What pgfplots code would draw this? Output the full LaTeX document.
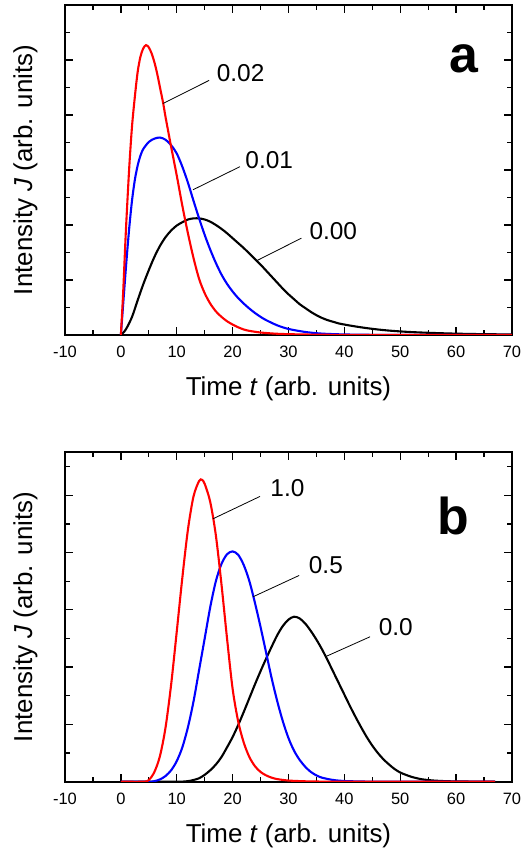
\documentclass[border=0pt]{standalone}
\usepackage{fontspec}
\setmainfont{Liberation Sans}
\usepackage{pgfplots}
\pgfplotsset{compat=1.18}

\pgfplotsset{
  panel/.style={
    scale only axis, width=447bp,
    xmin=-10, xmax=70,
    xtick={-10,0,...,70},
    xticklabels={-10,0,10,20,30,40,50,60,70},
    minor x tick num=1,
    ytick={0,1,...,6},
    yticklabels={},
    minor y tick num=1,
    tick pos=both, xticklabel pos=lower,
    tick align=inside,
    major tick length=8bp, minor tick length=5bp,
    every tick/.style={black, line width=1.3bp},
    axis line style={line width=1.8bp},
    xticklabel style={font=\fontsize{16.5}{18}\selectfont, anchor=base, yshift=-23bp},
    xlabel={Time \textit{t} (arb. units)},
    ylabel={Intensity \textit{J} (arb. units)},
    label style={font=\fontsize{26}{30}\selectfont},
    xlabel style={at={(axis description cs:0.5,0)}, anchor=base, yshift=-61bp},
    ylabel style={at={(axis description cs:-0.0738,0.5)}, anchor=base},
    every axis plot/.append style={line width=2.1bp, smooth},
  },
}
\tikzset{
  lab/.style={anchor=base west, inner sep=0pt, outer sep=0pt, font=\fontsize{24.5}{28}\selectfont},
  letter/.style={anchor=base west, inner sep=0pt, outer sep=0pt, font=\fontsize{52}{60}\selectfont\bfseries},
}

\begin{document}
\begin{tikzpicture}

% panel a
\begin{axis}[panel, at={(65bp,518bp)}, anchor=south west, height=330bp, ymin=0, ymax=6]
\addplot[black] coordinates {
(0,0) (0.5,0.05) (1,0.12) (2,0.33) (3,0.63) (4,0.92) (5,1.18) (6,1.42) (7,1.62)
(8,1.78) (9,1.9) (10,1.99) (11,2.05) (12,2.1) (13,2.12) (14,2.12) (15,2.1)
(16,2.06) (17,2.0) (18,1.93) (19,1.85) (20,1.76) (21,1.67) (22,1.58) (23,1.48)
(24,1.38) (25,1.28) (26,1.17) (27,1.06) (28,0.95) (29,0.84) (30,0.74) (31,0.65)
(32,0.56) (33,0.49) (34,0.42) (35,0.36) (36,0.31) (37,0.27) (38,0.24) (39,0.21)
(40,0.19) (42,0.155) (44,0.125) (46,0.1) (48,0.08) (50,0.065) (52,0.053)
(55,0.04) (58,0.03) (61,0.022) (65,0.015) (70,0.01)
};
\addplot[blue] coordinates {
(0,0) (0.5,0.68) (1,1.35) (1.5,1.95) (2,2.45) (2.5,2.82) (3,3.08) (3.5,3.26)
(4,3.38) (5,3.51) (6,3.57) (7,3.59) (8,3.55) (9,3.45) (10,3.3) (11,3.06)
(12,2.77) (13,2.44) (14,2.12) (15,1.82) (16,1.55) (17,1.31) (18,1.1) (19,0.93)
(20,0.79) (21,0.67) (22,0.57) (23,0.48) (24,0.4) (25,0.33) (26,0.27)
(28,0.175) (30,0.11) (33,0.055) (36,0.025) (40,0.01) (45,0.003) (50,0) (60,0) (70,0)
};
\addplot[red] coordinates {
(0,0) (0.4,0.75) (0.9,1.9) (1.5,3.05) (2,3.8) (2.5,4.33) (3,4.78) (3.5,5.06)
(4,5.21) (4.5,5.27) (5,5.23) (5.5,5.12) (6,4.96) (6.5,4.75) (7,4.5) (7.6,4.2)
(8,3.96) (9,3.42) (10,2.9) (11,2.35) (12,1.85) (13,1.4) (14,1.02) (15,0.76)
(16,0.57) (17,0.43) (18,0.33) (19,0.25) (20,0.19) (21,0.14) (22,0.1) (23,0.075)
(25,0.045) (27.5,0.025) (30,0.015) (35,0.006) (40,0.002) (50,0) (60,0) (70,0)
};
\draw[line width=0.8bp] (axis cs:7.57,4.21) -- (axis cs:15.8,4.63);
\draw[line width=0.8bp] (axis cs:12.9,2.64) -- (axis cs:21.3,3.06);
\draw[line width=0.8bp] (axis cs:24.3,1.35) -- (axis cs:32.3,1.76);
\node[lab] at (axis cs:17.18,4.61) {0.02};
\node[lab] at (axis cs:22.3,3.03) {0.01};
\node[lab] at (axis cs:33.77,1.73) {0.00};
\node[letter] at (axis cs:58.8,4.77) {a};
\end{axis}

% panel b
\begin{axis}[panel, at={(65bp,71.3bp)}, anchor=south west, height=329.4bp, ymin=0, ymax=5.75]
\addplot[black] coordinates {
(0,0) (10,0) (12,0.01) (13,0.03) (14,0.06) (15,0.12) (16,0.2) (17,0.3) (18,0.43)
(19,0.6) (20,0.78) (21,0.99) (22,1.22) (23,1.46) (24,1.7) (25,1.93) (26,2.15)
(27,2.36) (28,2.56) (29,2.72) (30,2.83) (31,2.88) (32,2.85) (33,2.76) (34,2.63)
(35,2.48) (36,2.31) (37,2.12) (38,1.92) (39,1.72) (40,1.52) (41,1.32) (42,1.13)
(43,0.95) (44,0.78) (45,0.63) (46,0.5) (47,0.39) (48,0.3) (49,0.22) (50,0.16)
(51,0.12) (52,0.085) (53,0.06) (54,0.04) (56,0.02) (58,0.01) (60,0.005)
(63,0.002) (67,0)
};
\addplot[blue] coordinates {
(0,0) (5,0) (6,0.01) (7,0.04) (8,0.1) (9,0.2) (10,0.36) (11,0.6) (12,0.95)
(13,1.4) (14,1.95) (15,2.5) (16,3.05) (17,3.5) (18,3.8) (19,3.97) (20,4.02)
(21,3.96) (22,3.78) (23,3.5) (24,3.12) (25,2.7) (26,2.25) (27,1.8) (28,1.4)
(29,1.05) (30,0.76) (31,0.54) (32,0.38) (33,0.26) (34,0.17) (35,0.11) (36,0.07)
(38,0.03) (40,0.012) (43,0.004) (46,0) (55,0) (67,0)
};
\addplot[red] coordinates {
(0,0) (4,0) (5,0.03) (6,0.17) (7,0.45) (8,0.95) (9,1.7) (10,2.62) (11,3.56)
(12,4.4) (13,4.98) (14,5.25) (14.5,5.27) (15,5.2) (16,4.88) (17,4.3) (18,3.45)
(19,2.5) (20,1.62) (21,1.05) (22,0.68) (23,0.43) (24,0.27) (25,0.17) (26,0.11)
(27,0.07) (28,0.045) (30,0.02) (33,0.007) (36,0.002) (40,0) (50,0) (67,0)
};
\draw[line width=0.8bp] (axis cs:16.5,4.59) -- (axis cs:24.9,4.98);
\draw[line width=0.8bp] (axis cs:23.7,3.23) -- (axis cs:31.9,3.60);
\draw[line width=0.8bp] (axis cs:36.8,2.19) -- (axis cs:44.6,2.53);
\node[lab] at (axis cs:26.77,4.97) {1.0};
\node[lab] at (axis cs:33.65,3.64) {0.5};
\node[lab] at (axis cs:46.17,2.55) {0.0};
\node[letter] at (axis cs:56.7,4.32) {b};
\end{axis}

\pgfresetboundingbox
\path[use as bounding box] (0,0) rectangle (522bp,853bp);
\end{tikzpicture}
\end{document}
